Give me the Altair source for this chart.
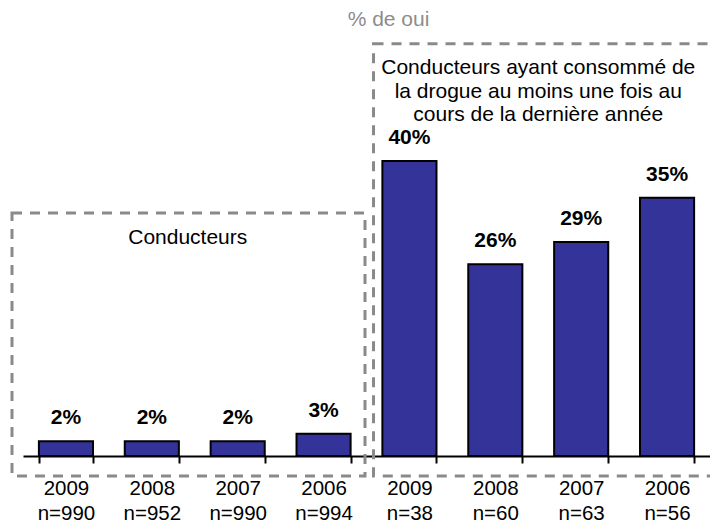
import altair as alt
import pandas as pd

# ---- data ----
years = ["2009", "2008", "2007", "2006", "2009", "2008", "2007", "2006"]
sizes = ["n=990", "n=952", "n=990", "n=994", "n=38", "n=60", "n=63", "n=56"]
values = [2, 2, 2, 3, 40, 26, 29, 35]

subtitle = "% de oui"
box1_text = "Conducteurs"
box2_text = ["Conducteurs ayant consommé de",
             "la drogue au moins une fois au",
             "cours de la dernière année"]

cats = [f"{y}\n{n}" for y, n in zip(years, sizes)]
df = pd.DataFrame({"cat": cats, "value": values})
one = pd.DataFrame({"a": [0]})

FONT = "Liberation Sans"
W, H = 687, 448
MID = W / 2
BOX = dict(fillOpacity=0, stroke="#8a8a8a", strokeWidth=3, strokeDash=[10, 8])

x = alt.X("cat:N", sort=cats, title=None,
          scale=alt.Scale(paddingInner=0.37, paddingOuter=0.185),
          axis=alt.Axis(labelExpr="split(datum.label, '\\n')", labelAngle=0,
                        labelFontSize=20.5, labelColor="black", labelFont=FONT,
                        labelLineHeight=25, labelPadding=15.5, labelBaseline="top",
                        tickBand="extent", tickSize=7, tickWidth=2, tickColor="black",
                        domainColor="black", domainWidth=2, grid=False))
y = alt.Y("value:Q", scale=alt.Scale(domain=[0, 60.73], nice=False), axis=None)

bars = alt.Chart(df).mark_bar(color="#333399", stroke="black", strokeWidth=2).encode(x=x, y=y)
labels = alt.Chart(df).transform_calculate(lbl="datum.value + '%'").mark_text(
    dy=-23, baseline="middle", fontWeight="bold", fontSize=21, font=FONT, color="black"
).encode(x=x, y=y, text="lbl:N")

box1 = alt.Chart(one).mark_rect(**BOX).encode(
    x=alt.value(-11), x2=alt.value(MID - 1.5), y=alt.value(205), y2=alt.value(468))
box2 = alt.Chart(one).mark_rect(**BOX).encode(
    x=alt.value(MID + 7), x2=alt.value(W + 60), y=alt.value(35.7), y2=alt.value(468))

t_sub = alt.Chart(one).mark_text(text=subtitle, fontSize=21, font=FONT, color="#8c8c8c",
                                 baseline="middle").encode(x=alt.value(MID + 22), y=alt.value(11.5))
t_box1 = alt.Chart(one).mark_text(text=box1_text, fontSize=21, font=FONT, color="black",
                                  baseline="middle").encode(x=alt.value(W / 4 - 7), y=alt.value(230))
t_box2 = alt.Chart(one).mark_text(text=box2_text, fontSize=21, font=FONT, color="black",
                                  baseline="middle", lineHeight=23.5).encode(
    x=alt.value(3 * W / 4), y=alt.value(60))

chart = alt.layer(box1, box2, bars, labels, t_sub, t_box1, t_box2).properties(
    width=W, height=H,
    autosize=alt.AutoSizeParams(type="none"),
    padding={"left": 15, "top": 0, "right": 0, "bottom": 67},
).configure_view(stroke=None)

chart.save("out.html", embed_options={"renderer": "svg", "actions": False})
